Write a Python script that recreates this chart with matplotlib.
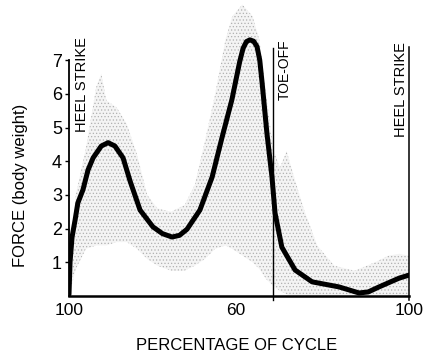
import numpy as np
import matplotlib.pyplot as plt

plt.rcParams['font.family'] = ['Liberation Sans', 'DejaVu Sans']
plt.rcParams['hatch.linewidth'] = 0.5

# Mean force curve (x in % of plotted cycle, y in body weights)
curve_x = [0, 0.3, 0.9, 1.8, 2.6, 4.1, 5.6, 7.1, 9.5, 11.5, 13.5, 15.9, 18.0,
           20.9, 24.7, 27.5, 30.3, 32.5, 34.7, 38.5, 42.1, 45.0, 47.9, 50.2,
           51.2, 52.2, 53.2, 54.3, 55.3, 56.1, 56.8, 58.2, 59.7, 60.6, 62.6,
           66.5, 71.5, 79.4, 85.3, 88.0, 91.2, 97.1, 100]
curve_y = [0.05, 1.0, 1.75, 2.26, 2.76, 3.15, 3.74, 4.1, 4.45, 4.55, 4.45, 4.1,
           3.4, 2.55, 2.05, 1.85, 1.75, 1.8, 1.98, 2.55, 3.53, 4.7, 5.82, 6.95,
           7.35, 7.55, 7.6, 7.56, 7.4, 7.0, 6.32, 4.84, 3.53, 2.46, 1.45, 0.77,
           0.42, 0.27, 0.09, 0.12, 0.27, 0.53, 0.62]

# Scatter band around the mean
band_x = [0, 2, 5, 8, 9.5, 11, 14, 17, 20, 23, 26, 30, 34, 37, 40, 43, 46, 48,
          51, 54, 56, 58, 60, 62, 64, 66, 69, 73, 78, 84, 90, 94, 97, 100]
band_hi = [1.0, 3.0, 4.4, 6.2, 6.6, 5.8, 5.6, 5.1, 4.2, 3.0, 2.6, 2.5, 2.7, 3.3,
           4.6, 6.0, 7.6, 8.3, 8.65, 8.3, 7.6, 6.0, 4.4, 3.8, 4.3, 3.6, 2.6,
           1.5, 0.9, 0.75, 1.0, 1.2, 1.25, 1.2]
band_lo = [0.0, 0.8, 1.4, 1.5, 1.5, 1.5, 1.6, 1.6, 1.4, 1.1, 0.9, 0.75, 0.75,
           0.9, 1.1, 1.4, 1.5, 1.4, 1.2, 1.0, 0.8, 0.5, 0.3, 0.15, 0.05, 0.0,
           0.0, 0.0, 0.0, 0.0, 0.0, 0.0, 0.0, 0.0]

y_ticks = [1, 2, 3, 4, 5, 6, 7]
x_tick_pos = [0, 49, 100]
x_tick_labels = ['100', '60', '100']

fig = plt.figure(figsize=(4.24, 3.56), dpi=100)
ax = fig.add_axes([69/424, 1 - 296/356, 340/424, 296/356])

ax.fill_between(band_x, band_lo, band_hi, facecolor='#f4f4f4',
                edgecolor='#b0b0b0', hatch='.....', linewidth=0)
ax.plot(curve_x, curve_y, color='black', lw=3.6, solid_capstyle='round',
        solid_joinstyle='round', zorder=3)

# event lines and labels
ax.plot([60, 60], [-0.12, 7.36], color='black', lw=1.0, clip_on=False)
ax.plot([100, 100], [-0.12, 7.39], color='black', lw=1.1, clip_on=False)
ax.text(3.8, 4.87, 'HEEL STRIKE', rotation=90, ha='center', va='bottom', fontsize=10.5)
ax.text(63.4, 5.82, 'TOE-OFF', rotation=90, ha='center', va='bottom', fontsize=10)
ax.text(97.6, 4.72, 'HEEL STRIKE', rotation=90, ha='center', va='bottom', fontsize=10.5)

ax.set_xlim(0, 100)
ax.set_ylim(0, 296/33.7)
for s in ['top', 'right']:
    ax.spines[s].set_visible(False)
ax.spines['left'].set_bounds(0, 7)
ax.spines['left'].set_linewidth(1.3)
ax.spines['bottom'].set_linewidth(1.8)

ax.set_yticks(y_ticks)
ax.set_xticks(x_tick_pos)
ax.set_xticklabels(x_tick_labels)
ax.tick_params(axis='y', length=3, width=1, labelsize=13, pad=2)
ax.tick_params(axis='x', length=0, labelsize=12.5, pad=5)

ax.set_ylabel('FORCE (body weight)', fontsize=12)
ax.yaxis.set_label_coords(-0.144, 0.375)
ax.yaxis.label.set_va('center')
ax.set_xlabel('PERCENTAGE OF CYCLE', fontsize=12)
ax.xaxis.set_label_coords(0.494, -0.166)
ax.xaxis.label.set_va('center')

fig.savefig('out.png', dpi=100)
